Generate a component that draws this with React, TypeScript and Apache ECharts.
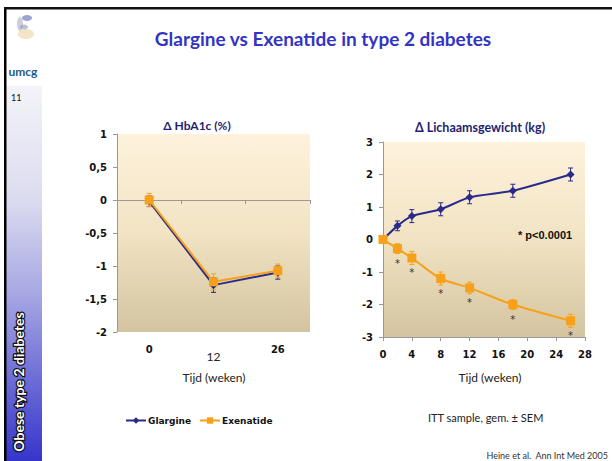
import React, { useEffect, useRef } from "react";
import * as echarts from "echarts";

const hbaWeeks = ["0", "12", "26"];
const glargineHba = [-0.02, -1.29, -1.1];
const exenatideHba = [0, -1.24, -1.07];
const glargineHbaSem = [0.08, 0.11, 0.1];
const exenatideHbaSem = [0.1, 0.12, 0.1];
const hbaTicks = ["-2", "-1,5", "-1", "-0,5", "0", "0,5", "1"];

const weightWeeks = [0, 2, 4, 8, 12, 18, 26];
const glargineWeight = [0, 0.42, 0.72, 0.93, 1.3, 1.5, 2.0];
const exenatideWeight = [0, -0.28, -0.57, -1.2, -1.49, -2.0, -2.5];
const glargineWeightSem = [0.1, 0.15, 0.2, 0.2, 0.2, 0.2, 0.2];
const exenatideWeightSem = [0.1, 0.15, 0.2, 0.2, 0.18, 0.15, 0.2];

const NAVY = "#2a2a8c";
const ORANGE = "#f7a11a";

function errBar(color: string) {
  return (params: any, api: any) => {
    const x = api.value(0);
    const p1 = api.coord([x, api.value(1)]);
    const p2 = api.coord([x, api.value(2)]);
    const w = 2.5;
    const st = { stroke: color, lineWidth: 1 };
    return {
      type: "group",
      children: [
        { type: "line", shape: { x1: p1[0], y1: p1[1], x2: p2[0], y2: p2[1] }, style: st },
        { type: "line", shape: { x1: p1[0] - w, y1: p1[1], x2: p1[0] + w, y2: p1[1] }, style: st },
        { type: "line", shape: { x1: p2[0] - w, y1: p2[1], x2: p2[0] + w, y2: p2[1] }, style: st },
      ],
    };
  };
}

const plotBg = () =>
  new echarts.graphic.LinearGradient(0, 0, 0, 1, [
    { offset: 0, color: "#fef2dc" },
    { offset: 0.5, color: "#f1e3c3" },
    { offset: 1, color: "#d4c4a0" },
  ]);

const axisLabelStyle = {
  color: "#111",
  fontFamily: "DejaVu Sans",
  fontWeight: "bold" as const,
  fontSize: 10,
};

export default function App() {
  const ref = useRef<HTMLDivElement>(null);
  useEffect(() => {
    const chart = echarts.init(ref.current!, null, { renderer: "svg" });
    const option: any = {
      animation: false,
      backgroundColor: "#ffffff",
      grid: [
        { left: 117, top: 134, width: 193, height: 198, show: true, backgroundColor: plotBg(), borderWidth: 0 },
        { left: 383, top: 142, width: 202, height: 195, show: true, backgroundColor: plotBg(), borderWidth: 0 },
      ],
      xAxis: [
        {
          type: "category",
          gridIndex: 0,
          data: hbaWeeks,
          boundaryGap: true,
          axisLine: { lineStyle: { color: "#999" } },
          axisTick: { show: true, lineStyle: { color: "#999" }, length: 4 },
          axisLabel: {
            margin: 12,
            formatter: (v: string) => (v === "12" ? "{n|" + v + "}" : "{b|" + v + "}"),
            rich: {
              b: { ...axisLabelStyle },
              n: { color: "#222", fontFamily: "Lato", fontSize: 12, padding: [6, 0, 0, 0] },
            },
          },
          splitLine: { show: false },
        },
        {
          type: "value",
          gridIndex: 1,
          min: 0,
          max: 28,
          interval: 4,
          axisLine: { onZero: false, lineStyle: { color: "#999" } },
          axisTick: { show: true, lineStyle: { color: "#999" }, length: 4 },
          axisLabel: { ...axisLabelStyle, margin: 12 },
          splitLine: { show: false },
        },
      ],
      yAxis: [
        {
          type: "value",
          gridIndex: 0,
          min: -2,
          max: 1,
          interval: 0.5,
          axisLine: { show: true, lineStyle: { color: "#999" } },
          axisTick: { show: true, lineStyle: { color: "#999" }, length: 4 },
          axisLabel: {
            ...axisLabelStyle,
            margin: 10,
            formatter: (v: number) => hbaTicks[Math.round((v + 2) * 2)],
          },
          splitLine: { show: false },
        },
        {
          type: "value",
          gridIndex: 1,
          min: -3,
          max: 3,
          interval: 1,
          axisLine: { show: true, onZero: false, lineStyle: { color: "#999" } },
          axisTick: { show: true, lineStyle: { color: "#999" }, length: 4 },
          axisLabel: { ...axisLabelStyle, margin: 10 },
          splitLine: { show: false },
        },
      ],
      legend: {
        data: ["Glargine", "Exenatide"],
        left: 120,
        top: 411,
        itemWidth: 20,
        itemHeight: 8,
        itemGap: 8,
        textStyle: { color: "#111", fontFamily: "DejaVu Sans", fontWeight: "bold", fontSize: 9, padding: [0, 0, 0, -3] },
      },
      series: [
        {
          type: "custom",
          xAxisIndex: 0,
          yAxisIndex: 0,
          renderItem: errBar(NAVY),
          data: glargineHba.map((v, i) => [i, v - glargineHbaSem[i], v + glargineHbaSem[i]]),
          z: 2,
        },
        {
          type: "custom",
          xAxisIndex: 0,
          yAxisIndex: 0,
          renderItem: errBar(ORANGE),
          data: exenatideHba.map((v, i) => [i, v - exenatideHbaSem[i], v + exenatideHbaSem[i]]),
          z: 2,
        },
        {
          name: "Glargine",
          type: "line",
          xAxisIndex: 0,
          yAxisIndex: 0,
          data: glargineHba,
          symbol: "diamond",
          symbolSize: 8,
          color: NAVY,
          lineStyle: { width: 2, color: NAVY },
          z: 3,
        },
        {
          name: "Exenatide",
          type: "line",
          xAxisIndex: 0,
          yAxisIndex: 0,
          data: exenatideHba,
          symbol: "rect",
          symbolSize: 9,
          color: ORANGE,
          lineStyle: { width: 2, color: ORANGE },
          z: 4,
        },
        {
          type: "custom",
          xAxisIndex: 1,
          yAxisIndex: 1,
          renderItem: errBar(NAVY),
          data: glargineWeight.map((v, i) => [weightWeeks[i], v - glargineWeightSem[i], v + glargineWeightSem[i]]),
          z: 2,
        },
        {
          type: "custom",
          xAxisIndex: 1,
          yAxisIndex: 1,
          renderItem: errBar(ORANGE),
          data: exenatideWeight.map((v, i) => [weightWeeks[i], v - exenatideWeightSem[i], v + exenatideWeightSem[i]]),
          z: 2,
        },
        {
          name: "Glargine",
          type: "line",
          xAxisIndex: 1,
          yAxisIndex: 1,
          data: glargineWeight.map((v, i) => [weightWeeks[i], v]),
          symbol: "diamond",
          symbolSize: 8,
          smooth: 0.2,
          color: NAVY,
          lineStyle: { width: 2, color: NAVY },
          z: 3,
        },
        {
          name: "Exenatide",
          type: "line",
          xAxisIndex: 1,
          yAxisIndex: 1,
          data: exenatideWeight.map((v, i) => [weightWeeks[i], v]),
          symbol: "rect",
          symbolSize: 9,
          smooth: 0.3,
          color: ORANGE,
          lineStyle: { width: 2, color: ORANGE },
          label: {
            show: true,
            position: "bottom",
            distance: 5,
            formatter: (p: any) => (p.dataIndex > 0 ? "*" : ""),
            color: "#333",
            fontSize: 10,
            fontFamily: "DejaVu Sans",
          },
          z: 4,
        },
      ],
      graphic: [
        // sidebar
        {
          type: "rect",
          shape: { x: 6, y: 86, width: 36, height: 375 },
          style: {
            fill: new echarts.graphic.LinearGradient(0, 0, 0, 1, [
              { offset: 0, color: "#f3f3f8" },
              { offset: 0.3, color: "#dcdcf0" },
              { offset: 0.55, color: "#a8a8e4" },
              { offset: 1, color: "#3535cc" },
            ]),
          },
          z: 0,
        },
        { type: "rect", shape: { x: 4, y: 7, width: 2.5, height: 454 }, style: { fill: "#000" }, z: 5 },
        { type: "rect", shape: { x: 4, y: 7, width: 608, height: 2.5 }, style: { fill: "#111" }, z: 5 },
        // logo
        { type: "ellipse", shape: { cx: 27, cy: 18, rx: 5, ry: 3 }, style: { fill: "#5a68b0", opacity: 0.6 }, z: 1 },
        { type: "ellipse", shape: { cx: 20, cy: 24, rx: 3, ry: 7 }, style: { fill: "#9aa0b8", opacity: 0.5 }, z: 1 },
        { type: "ellipse", shape: { cx: 26, cy: 34, rx: 8, ry: 5 }, style: { fill: "#ecd2a4", opacity: 0.6 }, z: 1 },
        { type: "ellipse", shape: { cx: 24, cy: 27, rx: 4, ry: 2.5 }, style: { fill: "#7a84b0", opacity: 0.5 }, z: 1 },
        {
          type: "text",
          style: { text: "umcg", x: 23, y: 71, align: "center", verticalAlign: "middle", fill: "#1d5b8c", font: "bold 12px Lato" },
          z: 5,
        },
        {
          type: "text",
          style: { text: "11", x: 11, y: 97, align: "left", verticalAlign: "middle", fill: "#111", font: "9px Lato" },
          z: 5,
        },
        {
          type: "text",
          x: 18,
          y: 382,
          rotation: Math.PI / 2,
          style: {
            text: "Obese type 2 diabetes",
            x: 0,
            y: 0,
            align: "center",
            verticalAlign: "middle",
            fill: "#ffffff",
            font: "bold 14px Lato",
            stroke: "#111",
            lineWidth: 2.5,
          },
          z: 5,
        },
        {
          type: "text",
          style: {
            text: "Glargine vs Exenatide in type 2 diabetes",
            x: 323,
            y: 38,
            align: "center",
            verticalAlign: "middle",
            fill: "#3434c4",
            font: "bold 19px Lato",
          },
          z: 5,
        },
        {
          type: "text",
          style: { text: "Δ HbA1c (%)", x: 197, y: 125, align: "center", verticalAlign: "middle", fill: "#1e1e72", font: "bold 12px Lato" },
          z: 5,
        },
        {
          type: "text",
          style: { text: "Δ Lichaamsgewicht (kg)", x: 480, y: 127, align: "center", verticalAlign: "middle", fill: "#1e1e72", font: "bold 12.5px Lato" },
          z: 5,
        },
        {
          type: "text",
          style: { text: "Tijd (weken)", x: 214, y: 377, align: "center", verticalAlign: "middle", fill: "#222", font: "12px Lato" },
          z: 5,
        },
        {
          type: "text",
          style: { text: "Tijd (weken)", x: 490, y: 377, align: "center", verticalAlign: "middle", fill: "#222", font: "12px Lato" },
          z: 5,
        },
        {
          type: "text",
          style: { text: "* p<0.0001", x: 518, y: 235, align: "left", verticalAlign: "middle", fill: "#111", font: "bold 11px Liberation Sans" },
          z: 5,
        },
        {
          type: "text",
          style: { text: "ITT sample, gem. ± SEM", x: 428, y: 417, align: "left", verticalAlign: "middle", fill: "#222", font: "11px Lato" },
          z: 5,
        },
        {
          type: "text",
          style: { text: "Heine et al.  Ann Int Med 2005", x: 608, y: 455, align: "right", verticalAlign: "middle", fill: "#333", font: "9px Lato" },
          z: 5,
        },
      ],
    };
    chart.setOption(option);
    return () => chart.dispose();
  }, []);
  return <div ref={ref} style={{ position: "absolute", left: 0, top: 0, width: 612, height: 461 }} />;
}
